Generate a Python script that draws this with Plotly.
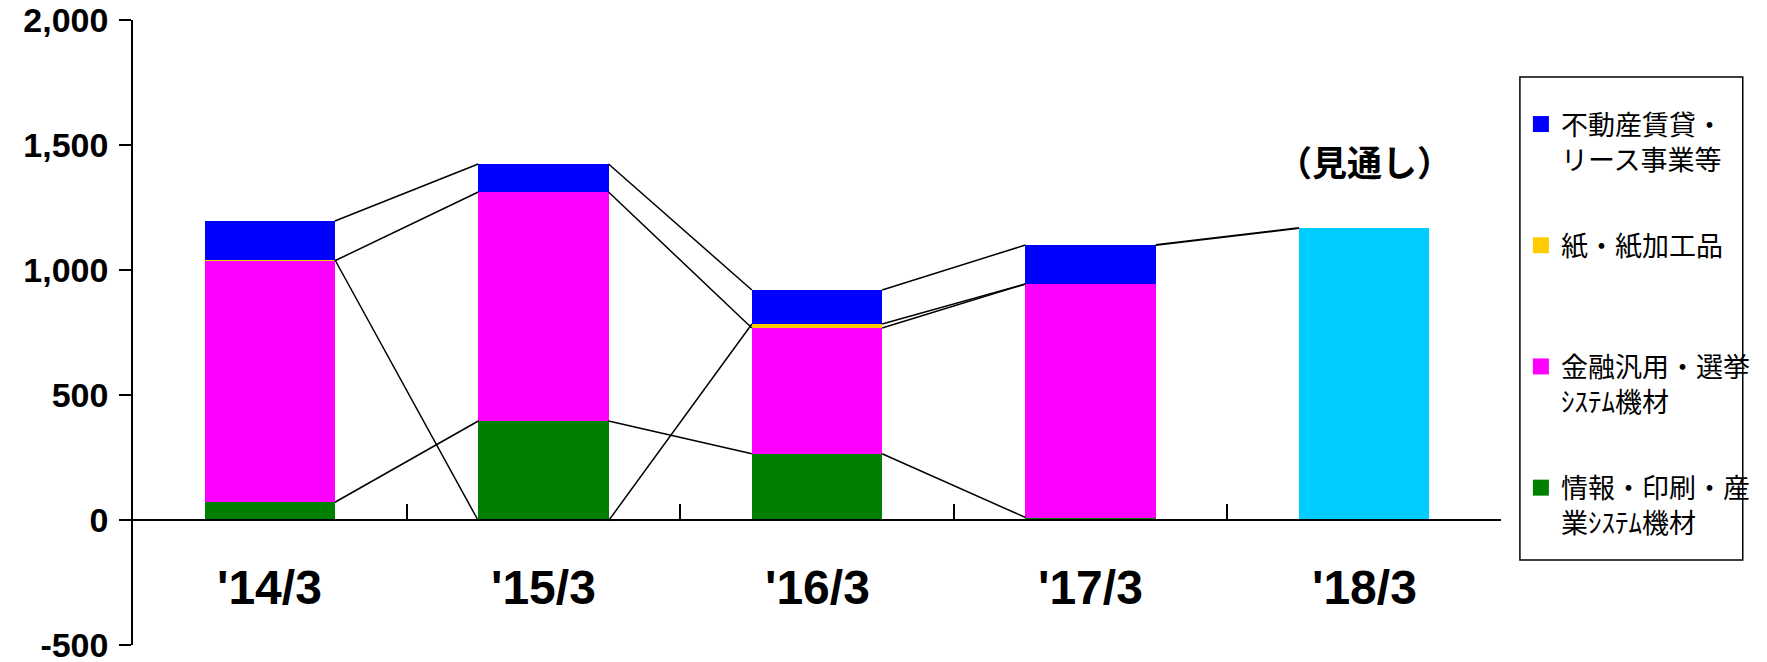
import plotly.graph_objects as go

# ---- data ----
categories = ["'14/3", "'15/3", "'16/3", "'17/3", "'18/3"]
actual_cats = categories[:4]

series_names = [
    "情報・印刷・産<br>業ｼｽﾃﾑ機材",
    "金融汎用・選挙<br>ｼｽﾃﾑ機材",
    "紙・紙加工品<br>　",
    "不動産賃貸・<br>リース事業等",
]
series_colors = ["#008000", "#FF00FF", "#FFCC00", "#0000FF"]
legend_ranks = [4, 3, 2, 1]

info_print = [71, 396, 265, 10]
finance_sys = [966, 916, 503, 934]
paper = [4, -3, 16, 0]
real_estate = [155, 112, 136, 156]
series_values = [info_print, finance_sys, paper, real_estate]

forecast_value = [1168]
forecast_label = "（見通し）"
forecast_color = "#00CCFF"

y_tickvals = [-500, 0, 500, 1000, 1500, 2000]
y_ticktext = ["-500", "0", "500", "1,000", "1,500", "2,000"]
y_min, y_max = -500, 2000

BAR_W = 0.476
FONT = "Liberation Sans, Arial, sans-serif"
JFONT = "Noto Sans CJK JP, sans-serif"

# page body has an 8px default margin -> figure sized to fit window
OFF = 8
W, H = 1767 - OFF, 662 - OFF
ML, MT = 133 - OFF, 20 - OFF
PLOT_R, PLOT_B = 1508 - OFF, 645 - OFF
MR, MB = W - PLOT_R, H - PLOT_B
PW, PH = W - ML - MR, H - MT - MB


def px_x(xa):
    return (xa - OFF - ML) / PW


def px_y(ya):
    return (PLOT_B - (ya - OFF)) / PH


fig = go.Figure()

x_act = list(range(len(actual_cats)))
for name, vals, col, rk in zip(series_names, series_values, series_colors, legend_ranks):
    fig.add_trace(go.Bar(
        x=x_act, y=vals, width=BAR_W, name=name, legendgroup=name,
        marker=dict(color=col, line=dict(width=0)),
        showlegend=False, hoverinfo="skip",
    ))
    # legend entry with a larger square swatch
    fig.add_trace(go.Scatter(
        x=[None], y=[None], mode="markers", name=name, legendgroup=name,
        legendrank=rk, marker=dict(symbol="square", size=19, color=col,
                                   line=dict(width=0)),
        hoverinfo="skip",
    ))

fig.add_trace(go.Bar(
    x=[len(categories) - 1], y=forecast_value, width=BAR_W,
    marker=dict(color=forecast_color, line=dict(width=0)),
    showlegend=False, hoverinfo="skip",
))

# ---- series lines (Excel style) ----
pos_cum = [0] * len(actual_cats)
neg_cum = [0] * len(actual_cats)
tops_per_series = []
for vals in series_values:
    tops = []
    for i, v in enumerate(vals):
        if v >= 0:
            pos_cum[i] += v
            tops.append(pos_cum[i])
        else:
            neg_cum[i] += v
            tops.append(neg_cum[i])
    tops_per_series.append(tops)

for tops in tops_per_series:
    xs, ys = [], []
    for i in range(len(tops) - 1):
        xs += [i + BAR_W / 2, i + 1 - BAR_W / 2, None]
        ys += [tops[i], tops[i + 1], None]
    fig.add_trace(go.Scatter(x=xs, y=ys, mode="lines",
                             line=dict(color="black", width=1.5),
                             showlegend=False, hoverinfo="skip"))

last = len(actual_cats) - 1
fig.add_trace(go.Scatter(
    x=[last + BAR_W / 2, last + 1 - BAR_W / 2],
    y=[pos_cum[last], forecast_value[0]],
    mode="lines", line=dict(color="black", width=2),
    showlegend=False, hoverinfo="skip"))

# ---- category labels ----
for i, lab in enumerate(categories):
    fig.add_annotation(x=i, y=-268, xref="x", yref="y", text=lab,
                       showarrow=False, yanchor="middle",
                       font=dict(family=FONT, size=48, color="black", weight="bold"))

fig.add_annotation(x=len(categories) - 1, y=1440, xref="x", yref="y",
                   text=forecast_label, showarrow=False,
                   font=dict(family=JFONT, size=35, color="black", weight="bold"))

# legend frame
fig.add_shape(type="rect", xref="paper", yref="paper",
              x0=px_x(1527), x1=px_x(1751), y0=px_y(560), y1=px_y(77),
              line=dict(color="black", width=1.5), fillcolor="rgba(0,0,0,0)")

zero_pos = (0 - y_min) / (y_max - y_min)

fig.update_layout(
    width=W, height=H,
    margin=dict(l=ML, r=MR, t=MT, b=MB),
    paper_bgcolor="white", plot_bgcolor="white",
    barmode="relative", bargap=0,
    xaxis=dict(
        range=[-0.5, len(categories) - 0.5],
        tickvals=[i - 0.5 for i in range(len(categories) + 1)],
        showticklabels=False, ticks="inside", ticklen=15, tickwidth=1.5,
        tickcolor="black", showline=True, linecolor="black", linewidth=1.5,
        showgrid=False, zeroline=False, anchor="free", position=zero_pos,
        automargin=False,
    ),
    yaxis=dict(
        range=[y_min, y_max], tickvals=y_tickvals, ticktext=y_ticktext,
        ticks="outside", ticklen=12, tickwidth=1.5, tickcolor="black",
        showline=True, linecolor="black", linewidth=1.5,
        showgrid=False, zeroline=False, ticklabelstandoff=4,
        ticklabeloverflow="allow", automargin=False,
        tickfont=dict(family=FONT, size=34, color="black", weight="bold"),
    ),
    legend=dict(
        x=px_x(1528), y=px_y(100), xanchor="left", yanchor="top",
        traceorder="grouped", tracegroupgap=48, valign="top",
        borderwidth=0, bgcolor="rgba(0,0,0,0)", itemsizing="trace",
        font=dict(family=JFONT, size=27, color="black"),
        itemwidth=30,
    ),
    showlegend=True,
)

fig.write_html("out.html")
